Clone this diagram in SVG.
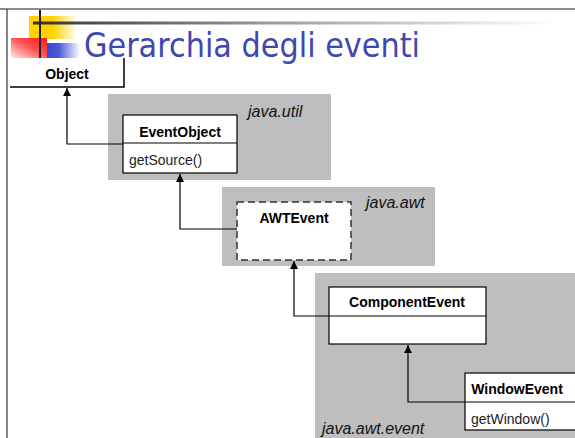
<svg xmlns="http://www.w3.org/2000/svg" width="575" height="438" viewBox="0 0 575 438">
<defs>
<linearGradient id="gy" x1="0" x2="1" y1="0" y2="0"><stop offset="0" stop-color="#ffd200"/><stop offset="0.5" stop-color="#ffd200"/><stop offset="1" stop-color="#ffffff"/></linearGradient>
<linearGradient id="gr" x1="1" x2="0" y1="0" y2="1"><stop offset="0" stop-color="#ff1a1a"/><stop offset="0.45" stop-color="#ff5050"/><stop offset="1" stop-color="#ffe8e8"/></linearGradient>
<linearGradient id="gb" x1="0" x2="1" y1="0" y2="0"><stop offset="0" stop-color="#3a48d0"/><stop offset="0.35" stop-color="#4a58d8"/><stop offset="1" stop-color="#ffffff"/></linearGradient>
<linearGradient id="gl" x1="0" x2="1" y1="0" y2="0"><stop offset="0" stop-color="#333333"/><stop offset="0.45" stop-color="#9a9a9a"/><stop offset="1" stop-color="#ffffff"/></linearGradient>
<marker id="ah" viewBox="0 0 8 10" refX="8" refY="5" markerWidth="8" markerHeight="10" markerUnits="userSpaceOnUse" orient="auto"><path d="M0,1 L8,5 L0,9 Z" fill="#000"/></marker>
<style>
.pkg{fill:#bebebe;}
.box{fill:#fff;stroke:#000;stroke-width:1.2;}
.dash{fill:#fff;stroke:#333;stroke-width:1.5;stroke-dasharray:7,4;}
.cn{fill:none;stroke:#000;stroke-width:1.2;marker-end:url(#ah);}
.nm{font-family:"Liberation Sans",Arial,sans-serif;font-size:14px;font-weight:bold;text-anchor:middle;fill:#000;}
.op{font-family:"Liberation Sans",Arial,sans-serif;font-size:14px;fill:#222;}
.pk{font-family:"Liberation Sans",Arial,sans-serif;font-size:16px;font-style:italic;fill:#111;}
</style>
</defs>
<rect width="575" height="438" fill="#fff"/>
<!-- page frame and decoration -->
<line x1="0" y1="9" x2="575" y2="9" stroke="#666" stroke-width="1.5"/>
<line x1="7" y1="9" x2="7" y2="438" stroke="#333" stroke-width="1.2"/>
<rect x="29" y="16" width="48" height="23" fill="url(#gy)"/>
<rect x="11" y="38" width="36" height="20" fill="url(#gr)"/>
<rect x="47" y="43" width="33" height="15" fill="url(#gb)"/>
<rect x="33" y="21.5" width="522" height="3" fill="url(#gl)"/>
<line x1="40" y1="10" x2="40" y2="58" stroke="#222" stroke-width="2"/>
<text x="84" y="57" font-family="'DejaVu Sans',Verdana,sans-serif" font-size="33" fill="#3f48b0" textLength="336" lengthAdjust="spacingAndGlyphs">Gerarchia degli eventi</text>
<!-- packages -->
<g id="pkg-java-util"><rect class="pkg" x="108" y="94" width="223" height="86"/><text class="pk" x="248" y="117">java.util</text></g>
<g id="pkg-java-awt"><rect class="pkg" x="222" y="187" width="213" height="79"/><text class="pk" x="366" y="208">java.awt</text></g>
<g id="pkg-java-awt-event"><rect class="pkg" x="315" y="273" width="260" height="165"/><text class="pk" x="322" y="434">java.awt.event</text></g>
<!-- nodes -->
<g id="Object">
<path d="M10,87 H124 V58" fill="none" stroke="#000" stroke-width="1.5"/>
<text class="nm" x="67" y="79">Object</text>
</g>
<g id="EventObject">
<rect class="box" x="123" y="115" width="114" height="58"/>
<line x1="123" y1="143" x2="237" y2="143" stroke="#000" stroke-width="1.2"/>
<text class="nm" x="180" y="137">EventObject</text>
<text class="op" x="129" y="165">getSource()</text>
</g>
<g id="AWTEvent">
<rect class="dash" x="237" y="202" width="114" height="58"/>
<text class="nm" x="294" y="223">AWTEvent</text>
</g>
<g id="ComponentEvent">
<rect class="box" x="329" y="287" width="157" height="57"/>
<line x1="329" y1="316" x2="486" y2="316" stroke="#000" stroke-width="1.2"/>
<text class="nm" x="407" y="307">ComponentEvent</text>
</g>
<g id="WindowEvent">
<rect class="box" x="465" y="373" width="112" height="57"/>
<line x1="465" y1="402" x2="577" y2="402" stroke="#000" stroke-width="1.2"/>
<text class="nm" x="517" y="394">WindowEvent</text>
<text class="op" x="471" y="424">getWindow()</text>
</g>
<!-- connectors -->
<g id="connectors">
<path class="cn" d="M123,144 H67 V88"/>
<path class="cn" d="M237,229 H180 V174"/>
<path class="cn" d="M329,316 H294 V261"/>
<path class="cn" d="M465,402 H408 V345"/>
</g>
</svg>
